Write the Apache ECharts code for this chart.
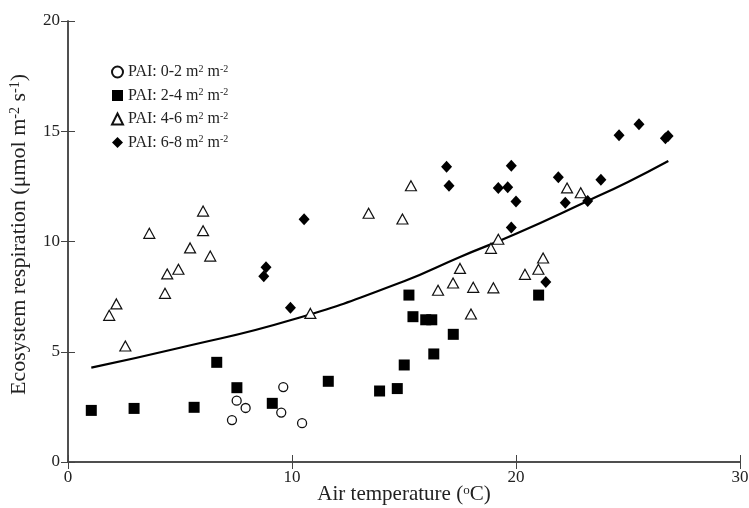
<!DOCTYPE html>
<html><head><meta charset="utf-8">
<script src="https://cdn.jsdelivr.net/npm/echarts@6/dist/echarts.min.js"></script>
<style>html,body{margin:0;padding:0;background:#fff}#c{width:749px;height:508px}</style>
</head><body><div id="c"></div>
<script>
// PAI 0-2 (open circles)
const pai02 = [[7.53,2.78],[7.93,2.45],[7.32,1.90],[9.61,3.40],[9.52,2.24],[10.45,1.76]];
// PAI 2-4 (filled squares)
const pai24 = [[1.04,2.34],[2.95,2.43],[5.63,2.48],[6.64,4.52],[7.54,3.37],[9.12,2.66],[11.62,3.66],
  [13.91,3.22],[14.70,3.33],[15.01,4.40],[15.22,7.57],[15.40,6.59],[15.97,6.45],[16.24,6.45],
  [16.33,4.90],[17.20,5.79],[21.01,7.57]];
// PAI 4-6 (open triangles)
const pai46 = [[1.84,6.65],[2.16,7.17],[2.56,5.26],[3.63,10.37],[4.33,7.65],[4.43,8.53],[4.93,8.74],
  [5.45,9.71],[6.03,11.38],[6.03,10.49],[6.35,9.34],[10.82,6.74],[13.42,11.28],[14.93,11.02],
  [15.31,12.53],[16.52,7.79],[17.19,8.12],[17.50,8.78],[17.99,6.71],[18.09,7.92],[18.99,7.90],
  [18.88,9.69],[19.21,10.10],[20.40,8.51],[21.00,8.74],[21.21,9.25],[22.28,12.43],[22.89,12.21]];
// PAI 6-8 (filled diamonds)
const pai68 = [[8.84,8.83],[8.74,8.42],[10.54,11.01],[9.93,7.00],[16.90,13.39],[17.01,12.53],
  [19.79,13.44],[19.21,12.43],[19.63,12.46],[20.00,11.81],[19.79,10.63],[21.33,8.16],[21.89,12.91],
  [22.20,11.76],[23.20,11.84],[23.79,12.80],[24.60,14.82],[25.49,15.32],[26.67,14.68],[26.79,14.78]];
// fitted curve
const fitCurve = [[1.04,4.28],[5,5.18],[10,6.45],[15,8.2],[17.5,9.3],[20,10.35],[23.2,11.84],[25,12.7],[26.8,13.65]];
const seriesNames = ['PAI: 0-2','PAI: 2-4','PAI: 4-6','PAI: 6-8'];
const xTicks = {min:0,max:30,interval:10};
const yTicks = {min:0,max:20,interval:5};

const serif = '"Liberation Serif","Times New Roman",serif';
const chart = echarts.init(document.getElementById('c'));
const axisCommon = {
  axisLine:{show:true,lineStyle:{color:'#444',width:1.5}},
  axisTick:{show:true,inside:true,length:7,lineStyle:{color:'#444',width:1}},
  splitLine:{show:false}
};
chart.setOption({
  animation:false,
  backgroundColor:'#fff',
  grid:{left:68,right:9,top:21,bottom:46,containLabel:false,outerBoundsMode:'none'},
  legend:{
    orient:'vertical', left:106, top:59, itemGap:7.5, itemWidth:11, itemHeight:11,
    data:seriesNames,
    formatter: n => n + ' m{sup|2} m{sup|-2}',
    textStyle:{fontFamily:serif,fontSize:16,color:'#222',lineHeight:16,
      rich:{sup:{fontFamily:serif,fontSize:10,color:'#222',verticalAlign:'top',lineHeight:11}}}
  },
  xAxis:[
    Object.assign({type:'value',min:xTicks.min,max:xTicks.max,interval:xTicks.interval,position:'bottom',
      name:'Air temperature ({sup|o}C)',nameLocation:'middle',nameGap:22,nameMoveOverlap:false,
      nameTextStyle:{fontFamily:serif,fontSize:21,color:'#222',
        rich:{sup:{fontFamily:serif,fontSize:13,color:'#222',verticalAlign:'top',lineHeight:15}}},
      axisLabel:{fontFamily:serif,fontSize:17,color:'#222',margin:7}},axisCommon),
    Object.assign({type:'value',min:xTicks.min,max:xTicks.max,interval:xTicks.interval,position:'top',
      axisLabel:{show:false}},axisCommon)
  ],
  yAxis:[
    Object.assign({type:'value',min:yTicks.min,max:yTicks.max,interval:yTicks.interval,position:'left',
      name:'Ecosystem respiration (μmol m{sup|-2} s{sup|-1})',nameLocation:'middle',nameGap:38,
      nameTextStyle:{fontFamily:serif,fontSize:22,color:'#222',padding:[0,0,0,14],
        rich:{sup:{fontFamily:serif,fontSize:14,color:'#222',verticalAlign:'top',lineHeight:16}}},
      axisLabel:{fontFamily:serif,fontSize:17,color:'#222',margin:8}},axisCommon),
    Object.assign({type:'value',min:yTicks.min,max:yTicks.max,interval:yTicks.interval,position:'right',
      axisLabel:{show:false}},axisCommon)
  ],
  series:[
    {name:seriesNames[0],type:'scatter',data:pai02,symbol:'circle',symbolSize:9,
      itemStyle:{color:'#fff',borderColor:'#111',borderWidth:1.3,opacity:1},z:5},
    {name:seriesNames[1],type:'scatter',data:pai24,symbol:'rect',symbolSize:11,
      itemStyle:{color:'#000',opacity:1},z:5},
    {name:seriesNames[2],type:'scatter',data:pai46,symbol:'triangle',symbolSize:[11,10],
      itemStyle:{color:'#fff',borderColor:'#111',borderWidth:1.2,opacity:1},z:5},
    {name:seriesNames[3],type:'scatter',data:pai68,symbol:'diamond',symbolSize:[11,12],
      itemStyle:{color:'#000',opacity:1},z:5},
    {name:'fit',type:'line',data:fitCurve,smooth:true,showSymbol:false,symbol:'none',
      lineStyle:{color:'#000',width:2.2},z:4}
  ]
});
</script></body></html>
